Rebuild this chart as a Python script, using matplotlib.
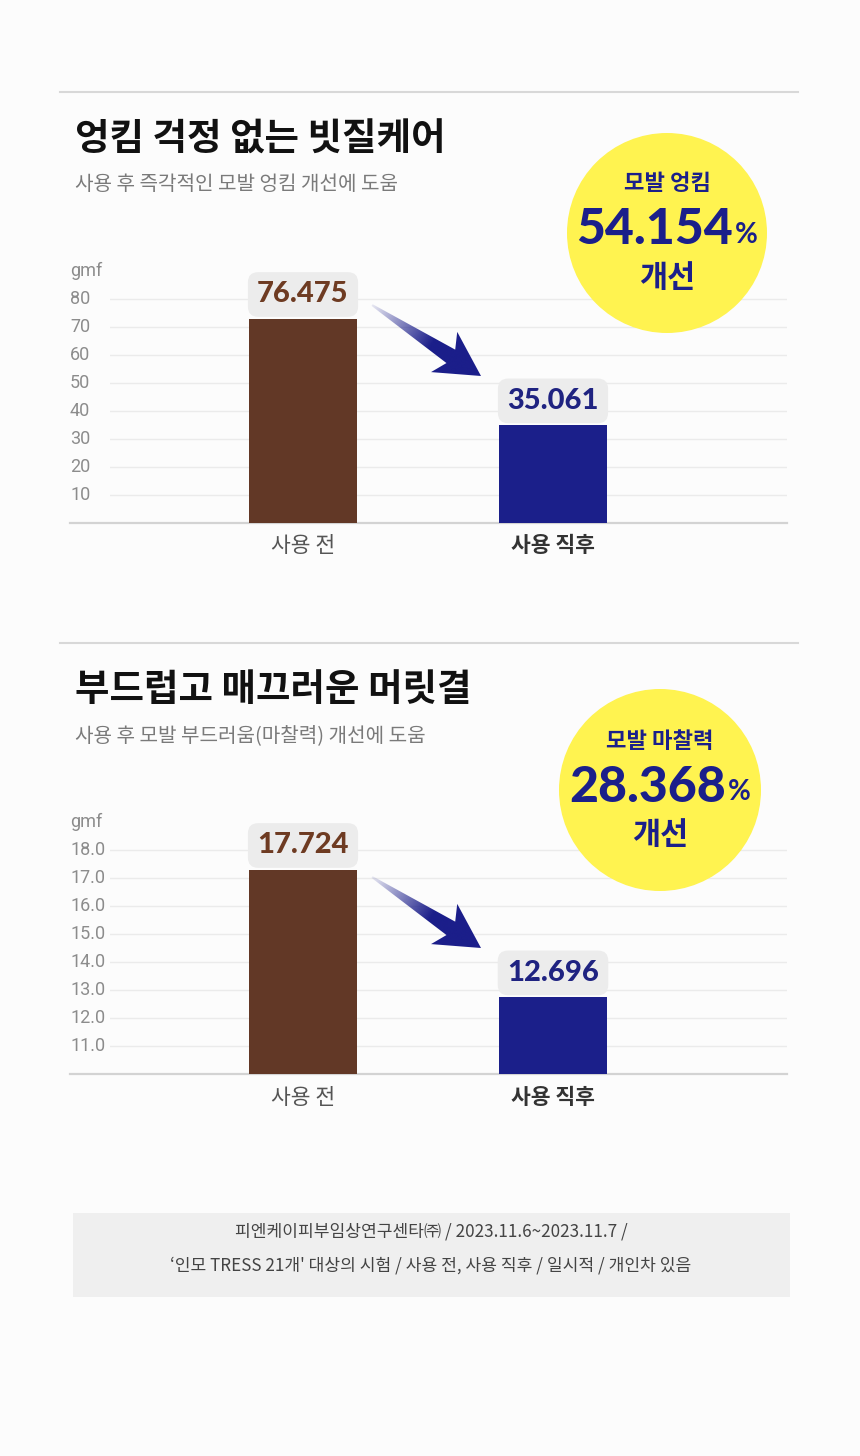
import numpy as np
import matplotlib
matplotlib.use("Agg")
import matplotlib.pyplot as plt
from matplotlib.patches import Polygon, Circle, Rectangle
from matplotlib import transforms

plt.rcParams['font.family'] = ['Noto Sans CJK KR', 'DejaVu Sans']

W, H = 860, 1456
BG = '#fcfcfc'
BROWN = '#623826'
NAVY = '#1b1f8a'

categories = ['사용 전', '사용 직후']

# chart 1 - 모발 엉킴 (gmf)
tangle_labels = [76.475, 35.061]
tangle_bars = [73.0, 35.0]          # drawn bar heights
tangle_ticks = [10, 20, 30, 40, 50, 60, 70, 80]
tangle_ylim = (0, 90)
tangle_improve = 54.154

# chart 2 - 모발 마찰력 (gmf)
friction_labels = [17.724, 12.696]
friction_bars = [17.3, 12.75]
friction_ticks = [11.0, 12.0, 13.0, 14.0, 15.0, 16.0, 17.0, 18.0]
friction_ylim = (10, 19)
friction_improve = 28.368

sections = [
    dict(title='엉킴 걱정 없는 빗질케어', sub='사용 후 즉각적인 모발 엉킴 개선에 도움',
         badge='모발 엉킴', labels=tangle_labels, bars=tangle_bars, ticks=tangle_ticks,
         ylim=tangle_ylim, improve=tangle_improve, fmt='{:.0f}', top=0, cx=667, r=100),
    dict(title='부드럽고 매끄러운 머릿결', sub='사용 후 모발 부드러움(마찰력) 개선에 도움',
         badge='모발 마찰력', labels=friction_labels, bars=friction_bars, ticks=friction_ticks,
         ylim=friction_ylim, improve=friction_improve, fmt='{:.1f}', top=551, cx=660, r=101),
]

NUM_FONT = ['Lato', 'DejaVu Sans']

fig = plt.figure(figsize=(W / 100, H / 100), dpi=100, facecolor=BG)
ov = fig.add_axes([0, 0, 1, 1], zorder=5)
ov.set_xlim(0, W)
ov.set_ylim(H, 0)
ov.axis('off')
ov.patch.set_alpha(0)


def to_px(ax, x, y):
    dx, dy = ax.transData.transform((x, y))
    return dx, H - dy


def gradient_arrow(tip_x, tip_y):
    # fixed shape arrow, local coords u along / v across
    ang = np.arctan2(71, 109)
    L = 130
    local = [(0, -1), (94, -8), (86, -24), (L, 0), (86, 24), (94, 8), (0, 1)]
    d = np.array([np.cos(ang), np.sin(ang)])
    n = np.array([-np.sin(ang), np.cos(ang)])
    tail = np.array([tip_x, tip_y]) - d * L
    pts = np.array([tail + u * d + v * n for u, v in local])
    poly = Polygon(pts, closed=True, fc='none', ec='none')
    ov.add_patch(poly)
    x0, y0 = pts.min(axis=0) - 2
    x1, y1 = pts.max(axis=0) + 2
    xs = np.linspace(x0, x1, 200)
    ys = np.linspace(y0, y1, 200)
    gx, gy = np.meshgrid(xs, ys)
    u = ((gx - tail[0]) * d[0] + (gy - tail[1]) * d[1]) / L
    a = np.clip(0.1 + u / 0.6, 0, 1)
    img = np.zeros((200, 200, 4))
    img[..., 0] = 27 / 255
    img[..., 1] = 30 / 255
    img[..., 2] = 138 / 255
    img[..., 3] = a
    im = ov.imshow(img, extent=[x0, x1, y1, y0], origin='upper', aspect='auto',
                   interpolation='bilinear', zorder=3)
    im.set_clip_path(poly)


for s in sections:
    t = s['top']
    base_px = 523 + t
    ax_top_px = 271 + t
    ax = fig.add_axes([110 / W, (H - base_px) / H, 677 / W, (base_px - ax_top_px) / H])
    ax.set_facecolor('none')
    y0, y1 = s['ylim']
    ax.set_ylim(y0, y1)
    ax.set_xlim(-0.772, 1.936)
    for sp in ax.spines.values():
        sp.set_visible(False)
    ax.set_yticks(s['ticks'])
    ax.yaxis.grid(True, color='#ebebeb', lw=1)
    ax.set_axisbelow(True)
    ax.tick_params(axis='y', length=0, labelleft=False)
    ax.tick_params(axis='x', length=0, pad=9, labelsize=15.5)
    ax.set_xticks([0, 1], categories)
    xl = ax.get_xticklabels()
    xl[0].set_color('#555555')
    xl[1].set_color('#333333')
    xl[1].set_fontweight('bold')
    ax.axhline(y0, xmin=-40 / 677, xmax=1, color='#d3d3d3', lw=1.6, clip_on=False)

    # y tick labels on the left
    blend = transforms.blended_transform_factory(fig.transFigure, ax.transData)
    for tk in s['ticks']:
        ax.text(70 / W, tk, s['fmt'].format(tk), transform=blend, ha='left', va='center',
                fontsize=13, color='#8c8c8c', family=['Roboto', 'DejaVu Sans'])
    ax.text(70 / W, y1, 'gmf', transform=blend, ha='left', va='center',
            fontsize=13, color='#8c8c8c', family=['Roboto', 'DejaVu Sans'])

    heights = [b - y0 for b in s['bars']]
    ax.bar([0, 1], heights, bottom=y0, width=0.432, color=[BROWN, NAVY], zorder=2)
    for i, (lab, b) in enumerate(zip(s['labels'], s['bars'])):
        ax.annotate(f'{lab:.3f}', (i, b), xytext=(0, 8), textcoords='offset points',
                    ha='center', va='bottom', fontsize=21, fontweight='black',
                    family=NUM_FONT, color='#6e3b22' if i == 0 else '#1f2381',
                    bbox=dict(boxstyle='round,pad=0.32,rounding_size=0.35',
                              fc='#ececec', ec='none'), zorder=4)

    # arrow from bar1 towards bar2
    bx, by = to_px(ax, 1 - 0.216, s['bars'][1])
    gradient_arrow(bx - 18, by - 49)

    # separator + headings
    ov.plot([60, 798], [92 + t, 92 + t], color='#d8d8d8', lw=1.5)
    ov.text(75, 139 + t, s['title'], ha='left', va='center', fontsize=27,
            fontweight='bold', color='#111111')
    ov.text(75, 185 + t, s['sub'], ha='left', va='center', fontsize=14.5,
            color='#7a7a7a')

    # yellow badge
    cy = 233 + t + (0 if t == 0 else 6)
    cx = s['cx']
    ov.add_patch(Circle((cx, cy), s['r'], fc='#fff350', ec='none', zorder=4))
    ov.text(cx, cy - 49, s['badge'], ha='center', va='center', fontsize=16,
            fontweight='bold', color=NAVY, zorder=5)
    ov.text(cx, cy + 45, '개선', ha='center', va='center', fontsize=22,
            fontweight='bold', color=NAVY, zorder=5)
    tn = ov.text(cx, cy - 3, f'{s["improve"]:.3f}', ha='left', va='center', fontsize=36,
                 fontweight='black', family=NUM_FONT, color=NAVY, zorder=5)
    tp = ov.text(cx, cy + 2, '%', ha='left', va='center', fontsize=20,
                 fontweight='bold', family=NUM_FONT, color=NAVY, zorder=5)
    rend = fig.canvas.get_renderer()
    wn = tn.get_window_extent(rend).width
    wp = tp.get_window_extent(rend).width
    left = cx - (wn + wp + 2) / 2
    tn.set_x(left)
    tp.set_x(left + wn + 2)

# footer note box
ov.add_patch(Rectangle((73, 1213), 717, 84, fc='#efefef', ec='none'))
ov.text(431, 1231, '피엔케이피부임상연구센타㈜ / 2023.11.6~2023.11.7 /', ha='center',
        va='center', fontsize=12.3, color='#444444')
ov.text(431, 1265, "‘인모 TRESS 21개' 대상의 시험 / 사용 전, 사용 직후 / 일시적 / 개인차 있음",
        ha='center', va='center', fontsize=12.3, color='#444444')

fig.savefig('out.png', dpi=100, facecolor=BG)
